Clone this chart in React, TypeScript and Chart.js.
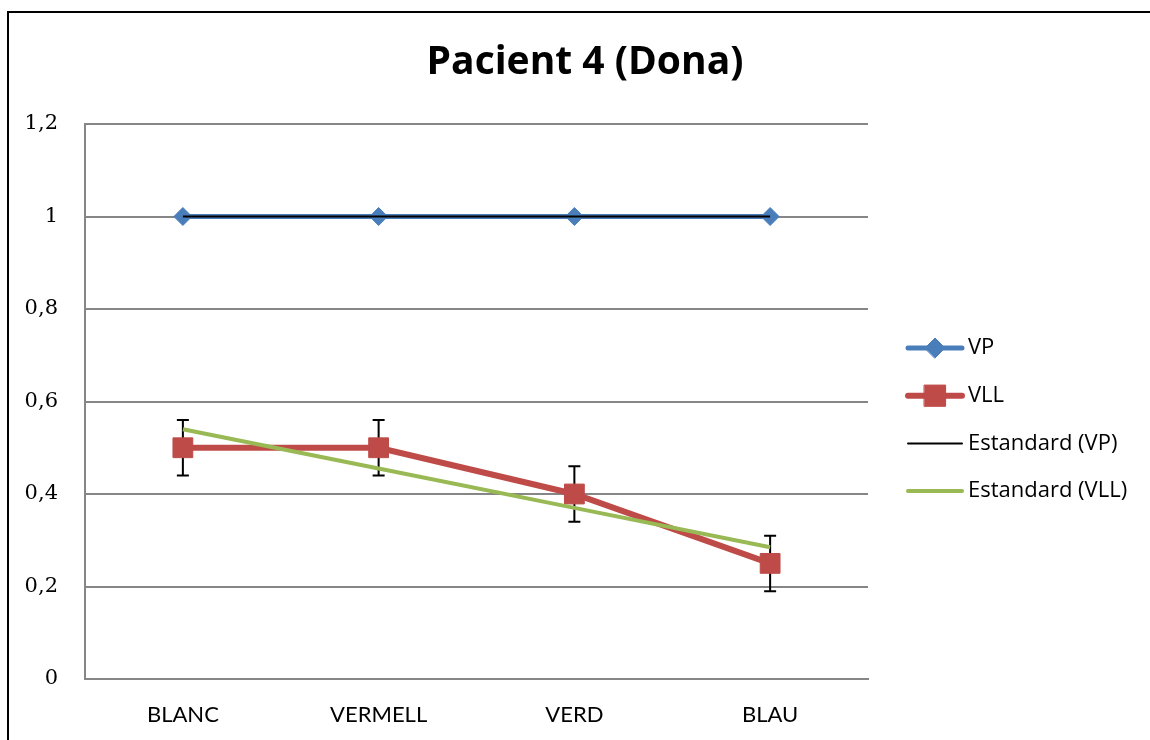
import React, { useEffect, useRef } from "react";
import { Chart, registerables } from "chart.js";
import { drawPoint } from "chart.js/helpers";

Chart.register(...registerables);

const categories = ["BLANC", "VERMELL", "VERD", "BLAU"];
const vpValues = [1, 1, 1, 1];
const vllValues = [0.5, 0.5, 0.4, 0.25];
const vllErrors = [0.06, 0.06, 0.06, 0.06];
const standardVP = [1, 1, 1, 1];
const standardVLL = [0.54, 0.455, 0.37, 0.285];
const seriesLabels = ["VP", "VLL", "Estandard (VP)", "Estandard (VLL)"];
const titleText = "Pacient 4 (Dona)";

const BLUE = "#4A7EBB";
const RED = "#BE4B48";
const GREEN = "#98B954";
const GRID = "#868686";

const errorBarPlugin = {
  id: "errorBars",
  beforeDatasetDraw(chart: any, args: any) {
    if (args.index !== 1) return;
    const { ctx } = chart;
    const x = chart.scales.x;
    const y = chart.scales.y;
    ctx.save();
    ctx.strokeStyle = "#000";
    ctx.lineWidth = 2;
    vllValues.forEach((v, i) => {
      const px = x.getPixelForValue(i);
      const top = y.getPixelForValue(v + vllErrors[i]);
      const bot = y.getPixelForValue(v - vllErrors[i]);
      ctx.beginPath();
      ctx.moveTo(px, top);
      ctx.lineTo(px, bot);
      ctx.moveTo(px - 6, top);
      ctx.lineTo(px + 6, top);
      ctx.moveTo(px - 6, bot);
      ctx.lineTo(px + 6, bot);
      ctx.stroke();
    });
    ctx.restore();
  },
};

const legendPlugin = {
  id: "customLegend",
  afterDraw(chart: any) {
    const { ctx, chartArea } = chart;
    const x0 = chartArea.right + 40;
    const lineLen = 54;
    const y0 = chartArea.top + 224;
    const gap = 47.7;
    ctx.save();
    chart.data.datasets.forEach((ds: any, i: number) => {
      const y = y0 + i * gap;
      ctx.strokeStyle = ds.borderColor;
      ctx.lineWidth = ds.borderWidth;
      ctx.lineCap = "round";
      ctx.beginPath();
      ctx.moveTo(x0, y);
      ctx.lineTo(x0 + lineLen, y);
      ctx.stroke();
      if (ds.pointRadius > 0) {
        ctx.fillStyle = ds.pointBackgroundColor;
        ctx.strokeStyle = ds.pointBorderColor;
        ctx.lineWidth = 1;
        drawPoint(ctx, { pointStyle: ds.pointStyle, radius: ds.pointRadius + 1, borderWidth: 1, rotation: 0 }, x0 + lineLen / 2, y);
      }
      ctx.fillStyle = "#000";
      ctx.font = "22px 'Open Sans'";
      ctx.textBaseline = "middle";
      ctx.textAlign = "left";
      ctx.fillText(ds.label, x0 + lineLen + 6, y);
    });
    ctx.restore();
  },
};

export default function App() {
  const ref = useRef<HTMLCanvasElement | null>(null);

  useEffect(() => {
    if (!ref.current) return;
    const chart = new Chart(ref.current, {
      type: "line",
      data: {
        labels: categories,
        datasets: [
          {
            label: seriesLabels[0],
            data: vpValues,
            borderColor: BLUE,
            backgroundColor: BLUE,
            pointBackgroundColor: BLUE,
            pointBorderColor: BLUE,
            borderWidth: 5,
            pointStyle: "rectRot",
            pointRadius: 9,
            pointBorderWidth: 1,
            tension: 0,
            order: 4,
          },
          {
            label: seriesLabels[1],
            data: vllValues,
            borderColor: RED,
            backgroundColor: RED,
            pointBackgroundColor: RED,
            pointBorderColor: RED,
            borderWidth: 6,
            pointStyle: "rect",
            pointRadius: 14,
            pointBorderWidth: 1,
            tension: 0,
            order: 3,
          },
          {
            label: seriesLabels[2],
            data: standardVP,
            borderColor: "#000000",
            backgroundColor: "#000000",
            borderWidth: 2,
            pointRadius: 0,
            tension: 0,
            order: 2,
          },
          {
            label: seriesLabels[3],
            data: standardVLL,
            borderColor: GREEN,
            backgroundColor: GREEN,
            borderWidth: 4,
            pointRadius: 0,
            tension: 0,
            order: 1,
          },
        ] as any,
      },
      options: {
        animation: false,
        responsive: false,
        layout: { padding: { left: 20, right: 0, top: 0, bottom: 0 } },
        plugins: {
          legend: { display: false },
          tooltip: { enabled: false },
          title: {
            display: true,
            text: titleText,
            color: "#000",
            font: { family: "Open Sans", weight: "bold", size: 39, lineHeight: 1.2 },
            padding: { top: 39, bottom: 38.2 },
          },
        },
        scales: {
          x: {
            type: "category",
            offset: true,
            grid: { display: false, drawTicks: false },
            border: { display: true, color: GRID, width: 2 },
            ticks: {
              color: "#000",
              font: { family: "Lato", size: 22 },
              padding: 23,
              maxRotation: 0,
            },
            afterFit: (s: any) => {
              s.height = 61;
            },
          },
          y: {
            type: "linear",
            min: 0,
            max: 1.2,
            grid: { color: GRID, lineWidth: 2, drawTicks: false },
            border: { display: true, color: GRID, width: 2 },
            ticks: {
              stepSize: 0.2,
              color: "#000",
              font: { family: "DejaVu Serif", size: 21 },
              padding: 27,
              callback: (v: any) => String(Math.round(Number(v) * 10) / 10).replace(".", ","),
            },
            afterFit: (s: any) => {
              s.width = 65;
            },
          },
          yRight: {
            type: "linear",
            position: "right",
            display: true,
            grid: { display: false, drawTicks: false },
            border: { display: false },
            ticks: { display: false },
            afterFit: (s: any) => {
              s.width = 282;
            },
          },
        },
      } as any,
      plugins: [errorBarPlugin, legendPlugin],
    });
    return () => chart.destroy();
  }, []);

  return (
    <div style={{ position: "fixed", left: 0, top: 0, width: 1150, height: 740, background: "#fff", overflow: "hidden" }}>
      <div
        style={{
          position: "absolute",
          left: 7,
          top: 11,
          width: 1200,
          height: 800,
          borderLeft: "2px solid #000",
          borderTop: "2px solid #000",
        }}
      />
      <canvas ref={ref} width={1150} height={740} style={{ position: "absolute", left: 0, top: 0, display: "block" }} />
    </div>
  );
}
